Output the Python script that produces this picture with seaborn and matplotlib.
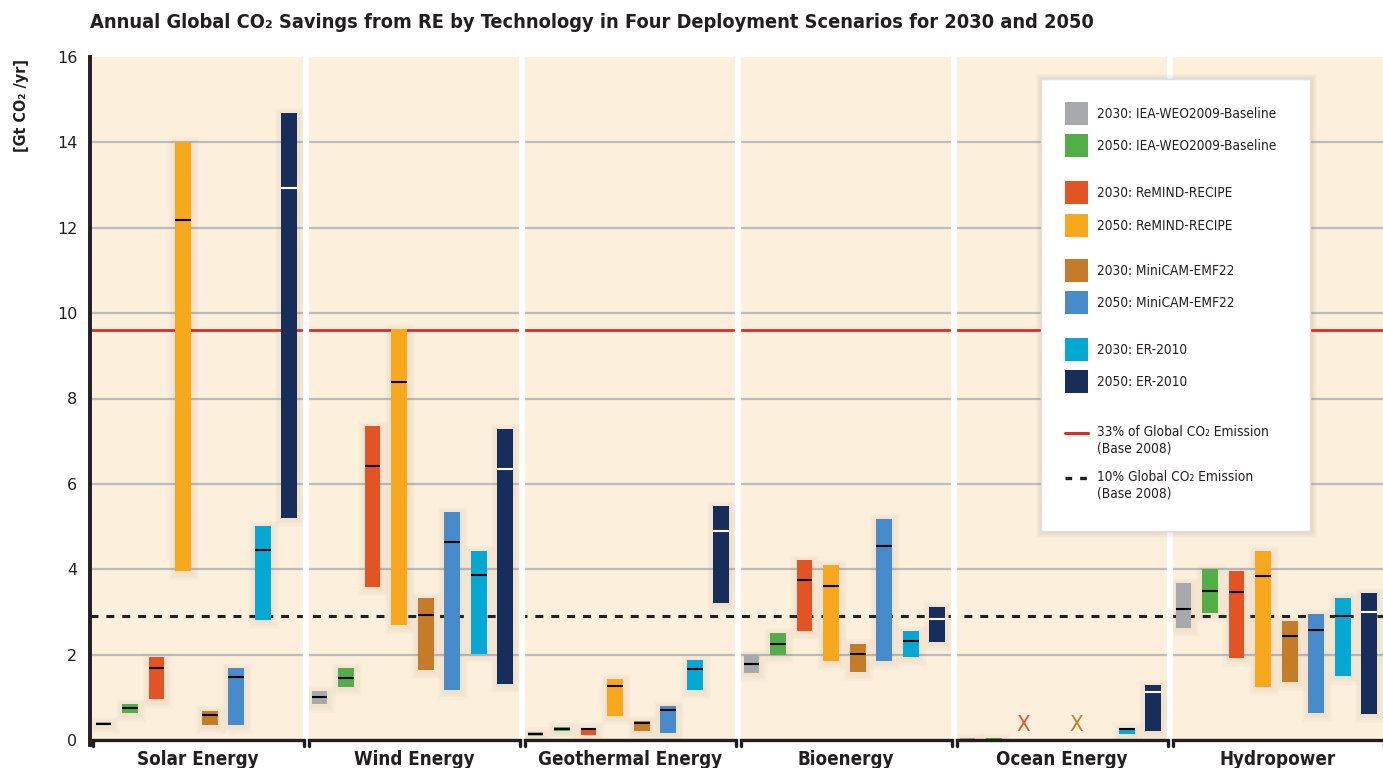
import numpy as np
import pandas as pd
import matplotlib
matplotlib.use("Agg")
import matplotlib.pyplot as plt
import seaborn as sns
from matplotlib.patches import Rectangle

# ---------------------------------------------------------------- data
technologies = ["Solar Energy", "Wind Energy", "Geothermal Energy",
                "Bioenergy", "Ocean Energy", "Hydropower"]
scenarios = ["2030: IEA-WEO2009-Baseline", "2050: IEA-WEO2009-Baseline",
             "2030: ReMIND-RECIPE", "2050: ReMIND-RECIPE",
             "2030: MiniCAM-EMF22", "2050: MiniCAM-EMF22",
             "2030: ER-2010", "2050: ER-2010"]
scenario_colors = ["#A7A9AC", "#52AE47", "#E35425", "#F8A81D",
                   "#C67B28", "#478BCB", "#04A8D2", "#172E5A"]

nan = np.nan
# savings ranges [Gt CO2/yr] per technology, in scenario order
solar_low = [0.34, 0.64, 0.95, 3.95, 0.34, 0.36, 2.82, 5.21]
solar_mid = [0.38, 0.74, 1.69, 12.18, 0.59, 1.48, 4.44, 12.94]
solar_high = [0.42, 0.84, 1.94, 14.00, 0.68, 1.68, 5.01, 14.69]

wind_low = [0.85, 1.25, 3.59, 2.70, 1.64, 1.16, 2.01, 1.31]
wind_mid = [1.01, 1.46, 6.43, 8.39, 2.92, 4.63, 3.86, 6.36]
wind_high = [1.15, 1.69, 7.36, 9.63, 3.33, 5.34, 4.43, 7.28]

geo_low = [0.10, 0.22, 0.12, 0.57, 0.21, 0.16, 1.17, 3.21]
geo_mid = [0.14, 0.26, 0.25, 1.27, 0.39, 0.70, 1.66, 4.90]
geo_high = [0.18, 0.30, 0.29, 1.43, 0.45, 0.80, 1.87, 5.48]

bio_low = [1.58, 1.99, 2.56, 1.84, 1.59, 1.86, 1.95, 2.30]
bio_mid = [1.78, 2.24, 3.74, 3.61, 2.01, 4.55, 2.31, 2.83]
bio_high = [1.99, 2.50, 4.22, 4.10, 2.25, 5.18, 2.55, 3.12]

ocean_low = [0.00, 0.00, nan, nan, nan, nan, 0.13, 0.21]
ocean_mid = [nan, nan, nan, nan, nan, nan, 0.26, 1.13]
ocean_high = [0.04, 0.04, nan, nan, nan, nan, 0.29, 1.29]
ocean_not_modelled = ["2030: ReMIND-RECIPE", "2030: MiniCAM-EMF22"]

hydro_low = [2.63, 2.97, 1.93, 1.25, 1.37, 0.64, 1.51, 0.62]
hydro_mid = [3.07, 3.48, 3.46, 3.85, 2.43, 2.57, 2.90, 2.99]
hydro_high = [3.68, 4.01, 3.96, 4.43, 2.79, 2.95, 3.33, 3.44]

global_33pct = 9.6    # 33% of global CO2 emission (base 2008)
global_10pct = 2.9    # 10% of global CO2 emission (base 2008)

yticks = [0, 2, 4, 6, 8, 10, 12, 14, 16]

lows = [solar_low, wind_low, geo_low, bio_low, ocean_low, hydro_low]
mids = [solar_mid, wind_mid, geo_mid, bio_mid, ocean_mid, hydro_mid]
highs = [solar_high, wind_high, geo_high, bio_high, ocean_high, hydro_high]

# ---------------------------------------------------------------- layout
FIG_W, FIG_H, DPI = 1383, 768, 100
PX_X = 1 / 216.0            # one pixel in x data units (one panel = 1 unit)
PX_Y = 16 / 683.0           # one pixel in y data units
first_off, step, bar_w = 0.0625, 0.1227, 0.074

rows = []
for t, tech in enumerate(technologies):
    for s, scen in enumerate(scenarios):
        rows.append(dict(tech=tech, scenario=scen, s_idx=s,
                         pos=t + first_off + s * step,
                         low=lows[t][s], mid=mids[t][s], high=highs[t][s]))
df = pd.DataFrame(rows)
df["span"] = df["high"] - df["low"]

BG = "#FCF0DD"
INK = "#231F20"

sns.set_theme(style="white")
plt.rcParams["font.family"] = ["DejaVu Sans"]

# condensed face for headings and legend
NARROW = dict(family="DejaVu Sans", stretch="condensed")

fig = plt.figure(figsize=(FIG_W / DPI, FIG_H / DPI), dpi=DPI)
fig.patch.set_facecolor("white")
ax = fig.add_axes([90 / FIG_W, 1 - 740 / FIG_H, 6 * 216 / FIG_W, 683 / FIG_H])
ax.set_facecolor(BG)

# horizontal grid
for v in yticks[1:-1]:
    ax.axhline(v, color="#BBBCBE", lw=1.6, zorder=1.5)

# reference emission levels
ax.axhline(global_33pct, color="#DD2C2A", lw=2.0, zorder=2.2)
ax.axhline(global_10pct, color=INK, lw=2.2, ls=(0, (2.6, 2.6)), zorder=2.2)

# soft halo behind every bar
valid = df.dropna(subset=["low"])
for k in range(1, 7):
    ax.bar(valid["pos"] + 1.0 * PX_X, valid["span"] + 2 * k * 1.2 * PX_Y,
           bottom=valid["low"] - k * 1.2 * PX_Y - 2 * PX_Y,
           width=bar_w + 2 * k * 1.2 * PX_X, color="#7A6848",
           alpha=0.016, linewidth=0, zorder=2.6)

# panel dividers
for t in range(1, len(technologies)):
    ax.axvline(t, color="white", lw=4.5, zorder=2.8)

# range bars, one call per scenario
for s, scen in enumerate(scenarios):
    sub = df[(df["scenario"] == scen)].dropna(subset=["low"]).sort_values("pos")
    sns.barplot(data=sub, x="pos", y="span", native_scale=True, width=bar_w,
                bottom=sub["low"].to_numpy(), color=scenario_colors[s],
                saturation=1, errorbar=None, linewidth=0, zorder=3, ax=ax)

# median markers
med = df.dropna(subset=["mid"])
for _, r in med.iterrows():
    c = "white" if r["s_idx"] == 7 else "black"
    ax.hlines(r["mid"], r["pos"] - bar_w / 2, r["pos"] + bar_w / 2,
              color=c, lw=1.5, zorder=3.5)

# technologies without a model result
ocean_t = technologies.index("Ocean Energy")
for scen in ocean_not_modelled:
    s = scenarios.index(scen)
    ax.text(ocean_t + first_off + s * step + 3 * PX_X, 0.34, "X",
            color=scenario_colors[s], ha="center", va="center", fontsize=16,
            fontweight="medium", zorder=4, **NARROW)

# bracket under each panel
for t in range(len(technologies)):
    e = 2.5 * PX_X
    ax.plot([t + e, t + e, t + 1 - e, t + 1 - e],
            [-6 * PX_Y, 0, 0, -6 * PX_Y], color=INK, lw=2.4,
            solid_joinstyle="miter", clip_on=False, zorder=5)

ax.set_xlim(0, 6)
ax.set_ylim(0, 16)
ax.set_xlabel("")
ax.set_ylabel("")
ax.set_xticks([t + 0.5 for t in range(len(technologies))])
ax.set_xticklabels(technologies, fontsize=13.5, fontweight="bold",
                   color=INK, **NARROW)
ax.set_yticks(yticks)
ax.set_yticklabels([str(v) for v in yticks], fontsize=11.5, color=INK)
ax.tick_params(axis="x", length=0, pad=7)
ax.tick_params(axis="y", length=0, pad=9)
for side in ["top", "right", "bottom"]:
    ax.spines[side].set_visible(False)
ax.spines["left"].set_color(INK)
ax.spines["left"].set_linewidth(2.8)
ax.spines["left"].set_bounds(-0.12, 16)
ax.spines["left"].set_zorder(6)

# titles
fig.text(90 / FIG_W, 1 - 22 / FIG_H,
         "Annual Global CO\u2082 Savings from RE by Technology in Four "
         "Deployment Scenarios for 2030 and 2050",
         ha="left", va="center", fontsize=14.3, fontweight="bold",
         color=INK, **NARROW)
fig.text(22 / FIG_W, 1 - 59 / FIG_H, "[Gt CO\u2082 /yr]", rotation=90,
         ha="center", va="top", fontsize=11.5, fontweight="bold",
         color=INK, **NARROW)

# ---------------------------------------------------------------- legend
LX0, LY0, LW, LH = 1041, 79, 269, 452
for k in range(1, 7):
    fig.patches.append(Rectangle(((LX0 - k + 1) / FIG_W, 1 - (LY0 + LH + k + 1) / FIG_H),
                                 (LW + 2 * k) / FIG_W, (LH + 2 * k) / FIG_H,
                                 transform=fig.transFigure, facecolor="#6B5A3C",
                                 alpha=0.025, linewidth=0, zorder=4))
lax = fig.add_axes([LX0 / FIG_W, 1 - (LY0 + LH) / FIG_H, LW / FIG_W, LH / FIG_H])
lax.set_zorder(5)
lax.set_xlim(0, LW)
lax.set_ylim(LH, 0)
lax.set_facecolor("white")
lax.set_xticks([])
lax.set_yticks([])
for sp in lax.spines.values():
    sp.set_color("#E0E0E0")
    sp.set_linewidth(1.0)

LEG_FS = 9.8
row_y = [34, 66, 113, 146, 191, 223, 270, 302]
for s, scen in enumerate(scenarios):
    lax.add_patch(Rectangle((24, row_y[s] - 11.5), 23, 23,
                            facecolor=scenario_colors[s], linewidth=0))
    lax.text(56, row_y[s] + 1, scen, ha="left", va="center", fontsize=LEG_FS,
             color=INK, **NARROW)

lax.plot([24, 47], [354, 354], color="#DD2C2A", lw=2.2)
lax.text(56, 346, "33% of Global CO\u2082 Emission\n(Base 2008)", ha="left",
         va="top", fontsize=LEG_FS, color=INK, linespacing=1.2, **NARROW)
lax.plot([24, 47], [399, 399], color=INK, lw=2.4, ls=(0, (2.0, 2.4)))
lax.text(56, 391, "10% Global CO\u2082 Emission\n(Base 2008)", ha="left",
         va="top", fontsize=LEG_FS, color=INK, linespacing=1.2, **NARROW)

fig.savefig("out.png", dpi=DPI, facecolor="white")
